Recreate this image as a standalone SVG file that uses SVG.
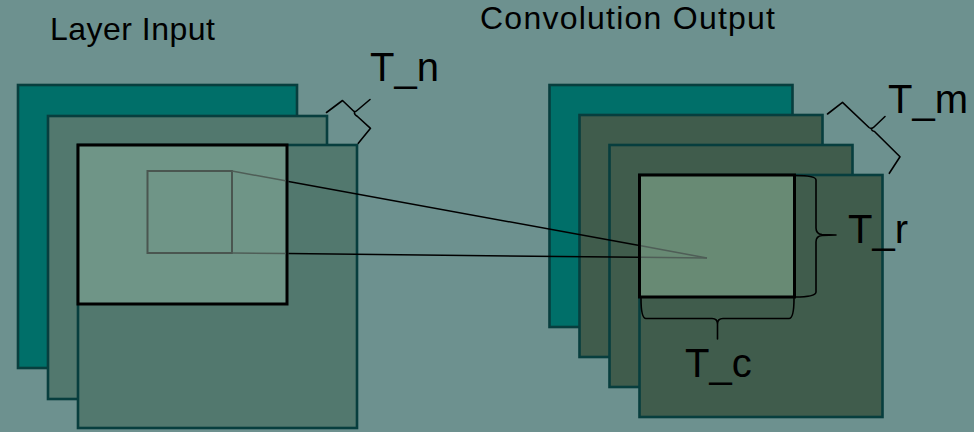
<svg xmlns="http://www.w3.org/2000/svg" width="974" height="432" viewBox="0 0 974 432">
  <style>
    .bg { fill: #6D918F; }
    .sheet { stroke: #073E3E; stroke-width: 2.6; }
    .teal { fill: #006F69; }
    .inmap { fill: #52786E; }
    .outmap { fill: #405C4C; }
    .tile { stroke: #000; stroke-width: 3; }
    .brace { fill: none; stroke: #000; stroke-width: 1.6; stroke-linejoin: round; stroke-linecap: round; }
    .link { fill: none; stroke: #000; stroke-width: 1.5; }
    .link-dim { fill: none; stroke: #4F5E57; stroke-width: 1.5; }
    .title { font-family: "Liberation Sans", Arial, sans-serif; font-size: 32px; fill: #000; }
    .dim { font-family: "Liberation Sans", Arial, sans-serif; font-size: 40px; fill: #000; }
  </style>

  <rect class="bg" x="0" y="0" width="974" height="432"/>

  <!-- input feature maps -->
  <g id="layer-input">
    <rect class="sheet teal" x="18" y="85" width="279" height="283"/>
    <rect class="sheet inmap" x="48" y="116" width="279" height="283"/>
    <rect class="sheet inmap" x="78" y="145" width="279" height="283"/>
    <rect class="tile" x="78" y="145" width="209" height="159" fill="#6F9587"/>
    <rect x="147.5" y="171" width="84.5" height="82" fill="none" stroke="#4A5650" stroke-width="2"/>
    <text class="title" x="50" y="40" textLength="165" lengthAdjust="spacing">Layer Input</text>
  </g>

  <!-- output feature maps -->
  <g id="convolution-output">
    <rect class="sheet teal" x="549.5" y="85" width="243" height="242"/>
    <rect class="sheet outmap" x="579.5" y="115" width="243" height="242"/>
    <rect class="sheet outmap" x="609.5" y="145" width="243" height="242"/>
    <rect class="sheet outmap" x="639.5" y="175" width="243" height="242"/>
    <rect class="tile" x="639.5" y="175" width="155" height="122" fill="#688A74"/>
    <text class="title" x="480" y="29" textLength="295" lengthAdjust="spacing">Convolution Output</text>
  </g>

  <!-- projection from the input window to the output point -->
  <g id="connectors">
    <line class="link-dim" x1="232" y1="171" x2="285.5" y2="180.8"/>
    <line class="link" x1="288.5" y1="181.4" x2="638" y2="245.3"/>
    <line class="link-dim" x1="641" y1="245.8" x2="707" y2="258"/>
    <line class="link-dim" x1="232" y1="253" x2="285.5" y2="253.6"/>
    <line class="link" x1="288.5" y1="253.6" x2="638" y2="257.3"/>
    <line class="link-dim" x1="641" y1="257.3" x2="707" y2="258"/>
  </g>

  <!-- tile size annotations -->
  <g id="tn">
    <path class="brace" d="M326.5,112.5 L342.5,100.5 L353.5,111 Q355,112.5 357,110.5 L370,99.5 M354.5,112.5 Q354,114.5 357.5,116.5 L370.5,128.3 L358.3,143.3"/>
    <text class="dim" x="370" y="81">T_n</text>
  </g>

  <g id="tm">
    <path class="brace" d="M827.5,114 L842.5,102.3 L869,127.5 Q871.5,129.5 874,127 L885,116.5 M871.5,129.5 Q872,131 874.5,131.5 L900,156.7 L889.3,173.3"/>
    <text class="dim" x="888" y="113">T_m</text>
  </g>

  <g id="tr">
    <path class="brace" d="M795,175.5 Q816,175.5 816,180 L816,228 Q816,234 822,234.5 L836,235 M836,235 L822,235.5 Q816,236 816,242 L816,292 Q816,297 795,297"/>
    <text class="dim" x="848" y="243">T_r</text>
  </g>

  <g id="tc">
    <path class="brace" d="M641,298.5 Q641,318.5 646,318.5 L712,318.5 Q717.5,318.5 717.5,324 L717.5,339 M717.5,339 L717.5,324 Q717.5,318.5 723,318.5 L789,318.5 Q794,318.5 794,298.5"/>
    <text class="dim" x="685" y="377">T_c</text>
  </g>
</svg>
